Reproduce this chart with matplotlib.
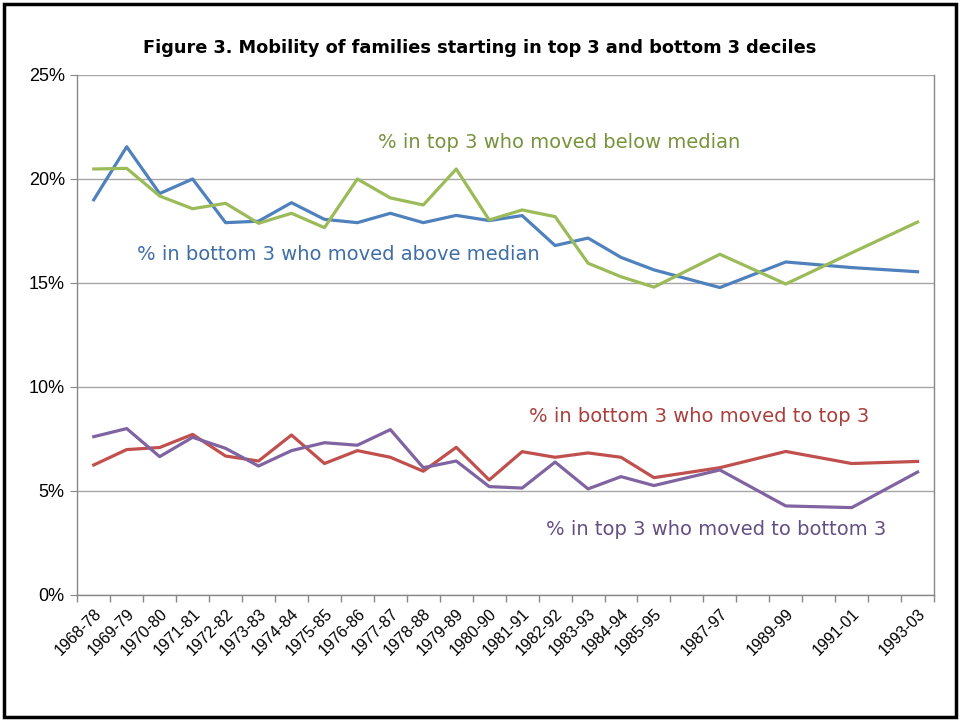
import matplotlib.pyplot as plt
from matplotlib.patches import Rectangle
from matplotlib.ticker import FixedLocator, PercentFormatter

# start year of each 10-year window (gaps after 1985 are real gaps in the data)
years = [1968, 1969, 1970, 1971, 1972, 1973, 1974, 1975, 1976, 1977, 1978,
         1979, 1980, 1981, 1982, 1983, 1984, 1985, 1987, 1989, 1991, 1993]
labels = ["1968-78", "1969-79", "1970-80", "1971-81", "1972-82", "1973-83",
          "1974-84", "1975-85", "1976-86", "1977-87", "1978-88", "1979-89",
          "1980-90", "1981-91", "1982-92", "1983-93", "1984-94", "1985-95",
          "1987-97", "1989-99", "1991-01", "1993-03"]

bottom_above_median = [19.0, 21.55, 19.3, 20.0, 17.9, 17.97, 18.86, 18.06, 17.9,
                       18.35, 17.9, 18.25, 18.0, 18.24, 16.8, 17.16, 16.23,
                       15.63, 14.78, 16.01, 15.74, 15.54]
top_below_median = [20.48, 20.51, 19.18, 18.57, 18.83, 17.87, 18.35, 17.66,
                    20.0, 19.09, 18.75, 20.48, 18.03, 18.51, 18.19, 15.95,
                    15.3, 14.8, 16.38, 14.95, 16.45, 17.93]
bottom_to_top = [6.25, 6.99, 7.09, 7.72, 6.68, 6.44, 7.69, 6.32, 6.94, 6.62,
                 5.95, 7.1, 5.53, 6.89, 6.62, 6.83, 6.62, 5.64, 6.12, 6.9,
                 6.32, 6.42]
top_to_bottom = [7.61, 8.0, 6.65, 7.58, 7.05, 6.2, 6.94, 7.32, 7.2, 7.95,
                 6.12, 6.44, 5.21, 5.14, 6.39, 5.1, 5.69, 5.26, 6.01, 4.28,
                 4.2, 5.91]

BLUE = "#4F81BD"
GREEN = "#9BBB59"
RED = "#C0504D"
PURPLE = "#8064A2"

fig = plt.figure(figsize=(9.6, 7.21), dpi=100)
ax = fig.add_axes([0.0805, 0.1748, 0.8925, 0.7212])

lw = 2.3
ax.plot(years, bottom_above_median, color=BLUE, lw=lw)
ax.plot(years, top_below_median, color=GREEN, lw=lw)
ax.plot(years, bottom_to_top, color=RED, lw=lw)
ax.plot(years, top_to_bottom, color=PURPLE, lw=lw)

ax.set_xlim(1967.5, 1993.5)
ax.set_ylim(0, 25)
ax.set_yticks([0, 5, 10, 15, 20, 25])
ax.yaxis.set_major_formatter(PercentFormatter(decimals=0))
ax.grid(axis="y", color="#A6A6A6", lw=1)
ax.set_axisbelow(True)

# category boundaries get tick marks, labels sit at category centres
ax.xaxis.set_major_locator(FixedLocator(years))
ax.set_xticklabels(labels, rotation=45, ha="right", rotation_mode="anchor",
                   fontsize=11.5, family="Liberation Sans")
ax.tick_params(axis="x", which="major", length=0, pad=8)
ax.xaxis.set_minor_locator(FixedLocator([y + 0.5 for y in range(1967, 1994)]))
ax.tick_params(axis="x", which="minor", length=5, color="#888888", width=1)
ax.tick_params(axis="y", length=5, color="#888888", labelsize=13, pad=4)
for t in ax.get_yticklabels():
    t.set_family("Liberation Sans")

ax.spines["top"].set_visible(False)
for side in ["left", "right", "bottom"]:
    ax.spines[side].set_color("#888888")
    ax.spines[side].set_linewidth(1)

fs = 14
ax.text(1982.12, 21.73, "% in top 3 who moved below median", color="#77933C",
        fontsize=fs, ha="center", va="center")
ax.text(1975.41, 16.35, "% in bottom 3 who moved above median", color="#3F6EA8",
        fontsize=fs, ha="center", va="center")
ax.text(1986.37, 8.56, "% in bottom 3 who moved to top 3", color="#A9403D",
        fontsize=fs, ha="center", va="center")
ax.text(1986.88, 3.13, "% in top 3 who moved to bottom 3", color="#654F85",
        fontsize=fs, ha="center", va="center")

fig.text(0.5, 0.934, "Figure 3. Mobility of families starting in top 3 and bottom 3 deciles",
         ha="center", va="center", fontsize=12.8, fontweight="bold")

fig.patches.append(Rectangle((0.004, 0.005), 0.992, 0.99, transform=fig.transFigure,
                             fill=False, ec="black", lw=2.5))

fig.savefig("out.png", dpi=100)
